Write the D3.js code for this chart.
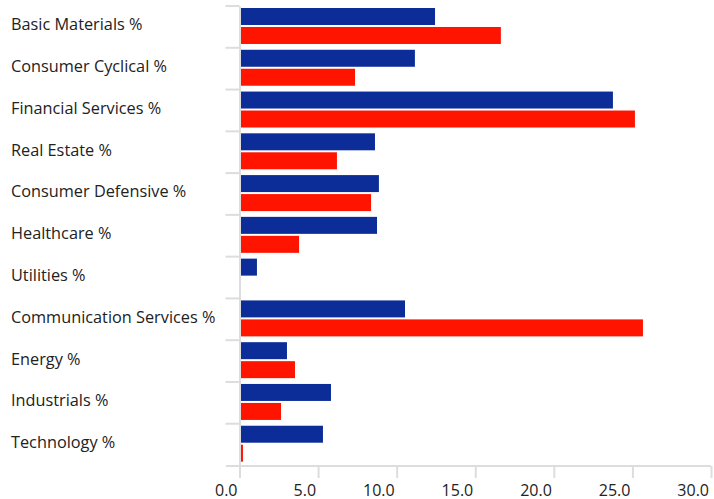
<!DOCTYPE html>
<html>
<head>
<meta charset="utf-8">
<script src="https://cdn.jsdelivr.net/npm/d3@7"></script>
<style>
  body{margin:0;background:#fff}
  text{font-family:"Open Sans",sans-serif;fill:#222}
</style>
</head>
<body>
<div id="chart"></div>
<script>
"use strict"
var categories=["Basic Materials %","Consumer Cyclical %","Financial Services %","Real Estate %","Consumer Defensive %","Healthcare %","Utilities %","Communication Services %","Energy %","Industrials %","Technology %"]
var seriesA=[12.44,11.16,23.76,8.62,8.87,8.75,1.11,10.53,3.02,5.82,5.31]
var seriesB=[16.63,7.35,25.16,6.20,8.37,3.79,0,25.67,3.53,2.64,0.22]
var xTicks=[0,5,10,15,20,25,30]

var W=714,H=499
var svg=d3.select('#chart').append('svg').attr('width',W).attr('height',H)

var x=d3.scaleLinear().domain([0,30]).range([239.5,711])
var y0=d3.scaleBand().domain(categories).range([6,465.5]).padding(0)
var y1=d3.scaleBand().domain(['a','b']).range([2,y0.bandwidth()-3.8]).paddingInner(2/19)

var rows=categories.map(function(c,i){return {cat:c,a:seriesA[i],b:seriesB[i]}})

// bars
var g=svg.append('g')
var row=g.selectAll('g.row').data(rows).enter().append('g')
  .attr('transform',function(d){return 'translate(0,'+y0(d.cat)+')'})
row.append('rect').attr('x',x(0)).attr('y',y1('a')).attr('height',y1.bandwidth())
  .attr('width',function(d){return x(d.a)-x(0)}).attr('fill','#0c2d98')
row.append('rect').attr('x',x(0)).attr('y',y1('b')).attr('height',y1.bandwidth())
  .attr('width',function(d){return x(d.b)-x(0)}).attr('fill','#ff1400')

// y axis: ticks on band boundaries
var yAxis=svg.append('g').attr('transform','translate('+x(0)+',0)')
  .call(d3.axisLeft(y0).tickSize(14).tickSizeOuter(0).tickFormat(''))
yAxis.selectAll('.tick').attr('transform',function(d){return 'translate(0,'+y0(d)+')'})
yAxis.selectAll('path,line').attr('stroke','#ddd').attr('stroke-width',2)

// category labels
svg.append('g').selectAll('text').data(categories).enter().append('text')
  .attr('x',11).attr('y',function(d){return y0(d)+y0.bandwidth()/2+3.5})
  .attr('font-size',16.3).text(function(d){return d})

// x axis
var xAxis=svg.append('g').attr('transform','translate(0,466)')
  .call(d3.axisBottom(x).tickValues(xTicks).tickFormat(d3.format('.1f')).tickSize(12).tickSizeOuter(0))
xAxis.select('.domain').attr('d','M226,0H711')
xAxis.selectAll('path,line').attr('stroke','#ddd').attr('stroke-width',2)
xAxis.selectAll('text').attr('text-anchor','end').attr('dx',-2.5).attr('y',18.5)
  .attr('font-size',16).attr('font-family','"Open Sans",sans-serif').attr('fill','#222')
</script>
</body>
</html>
